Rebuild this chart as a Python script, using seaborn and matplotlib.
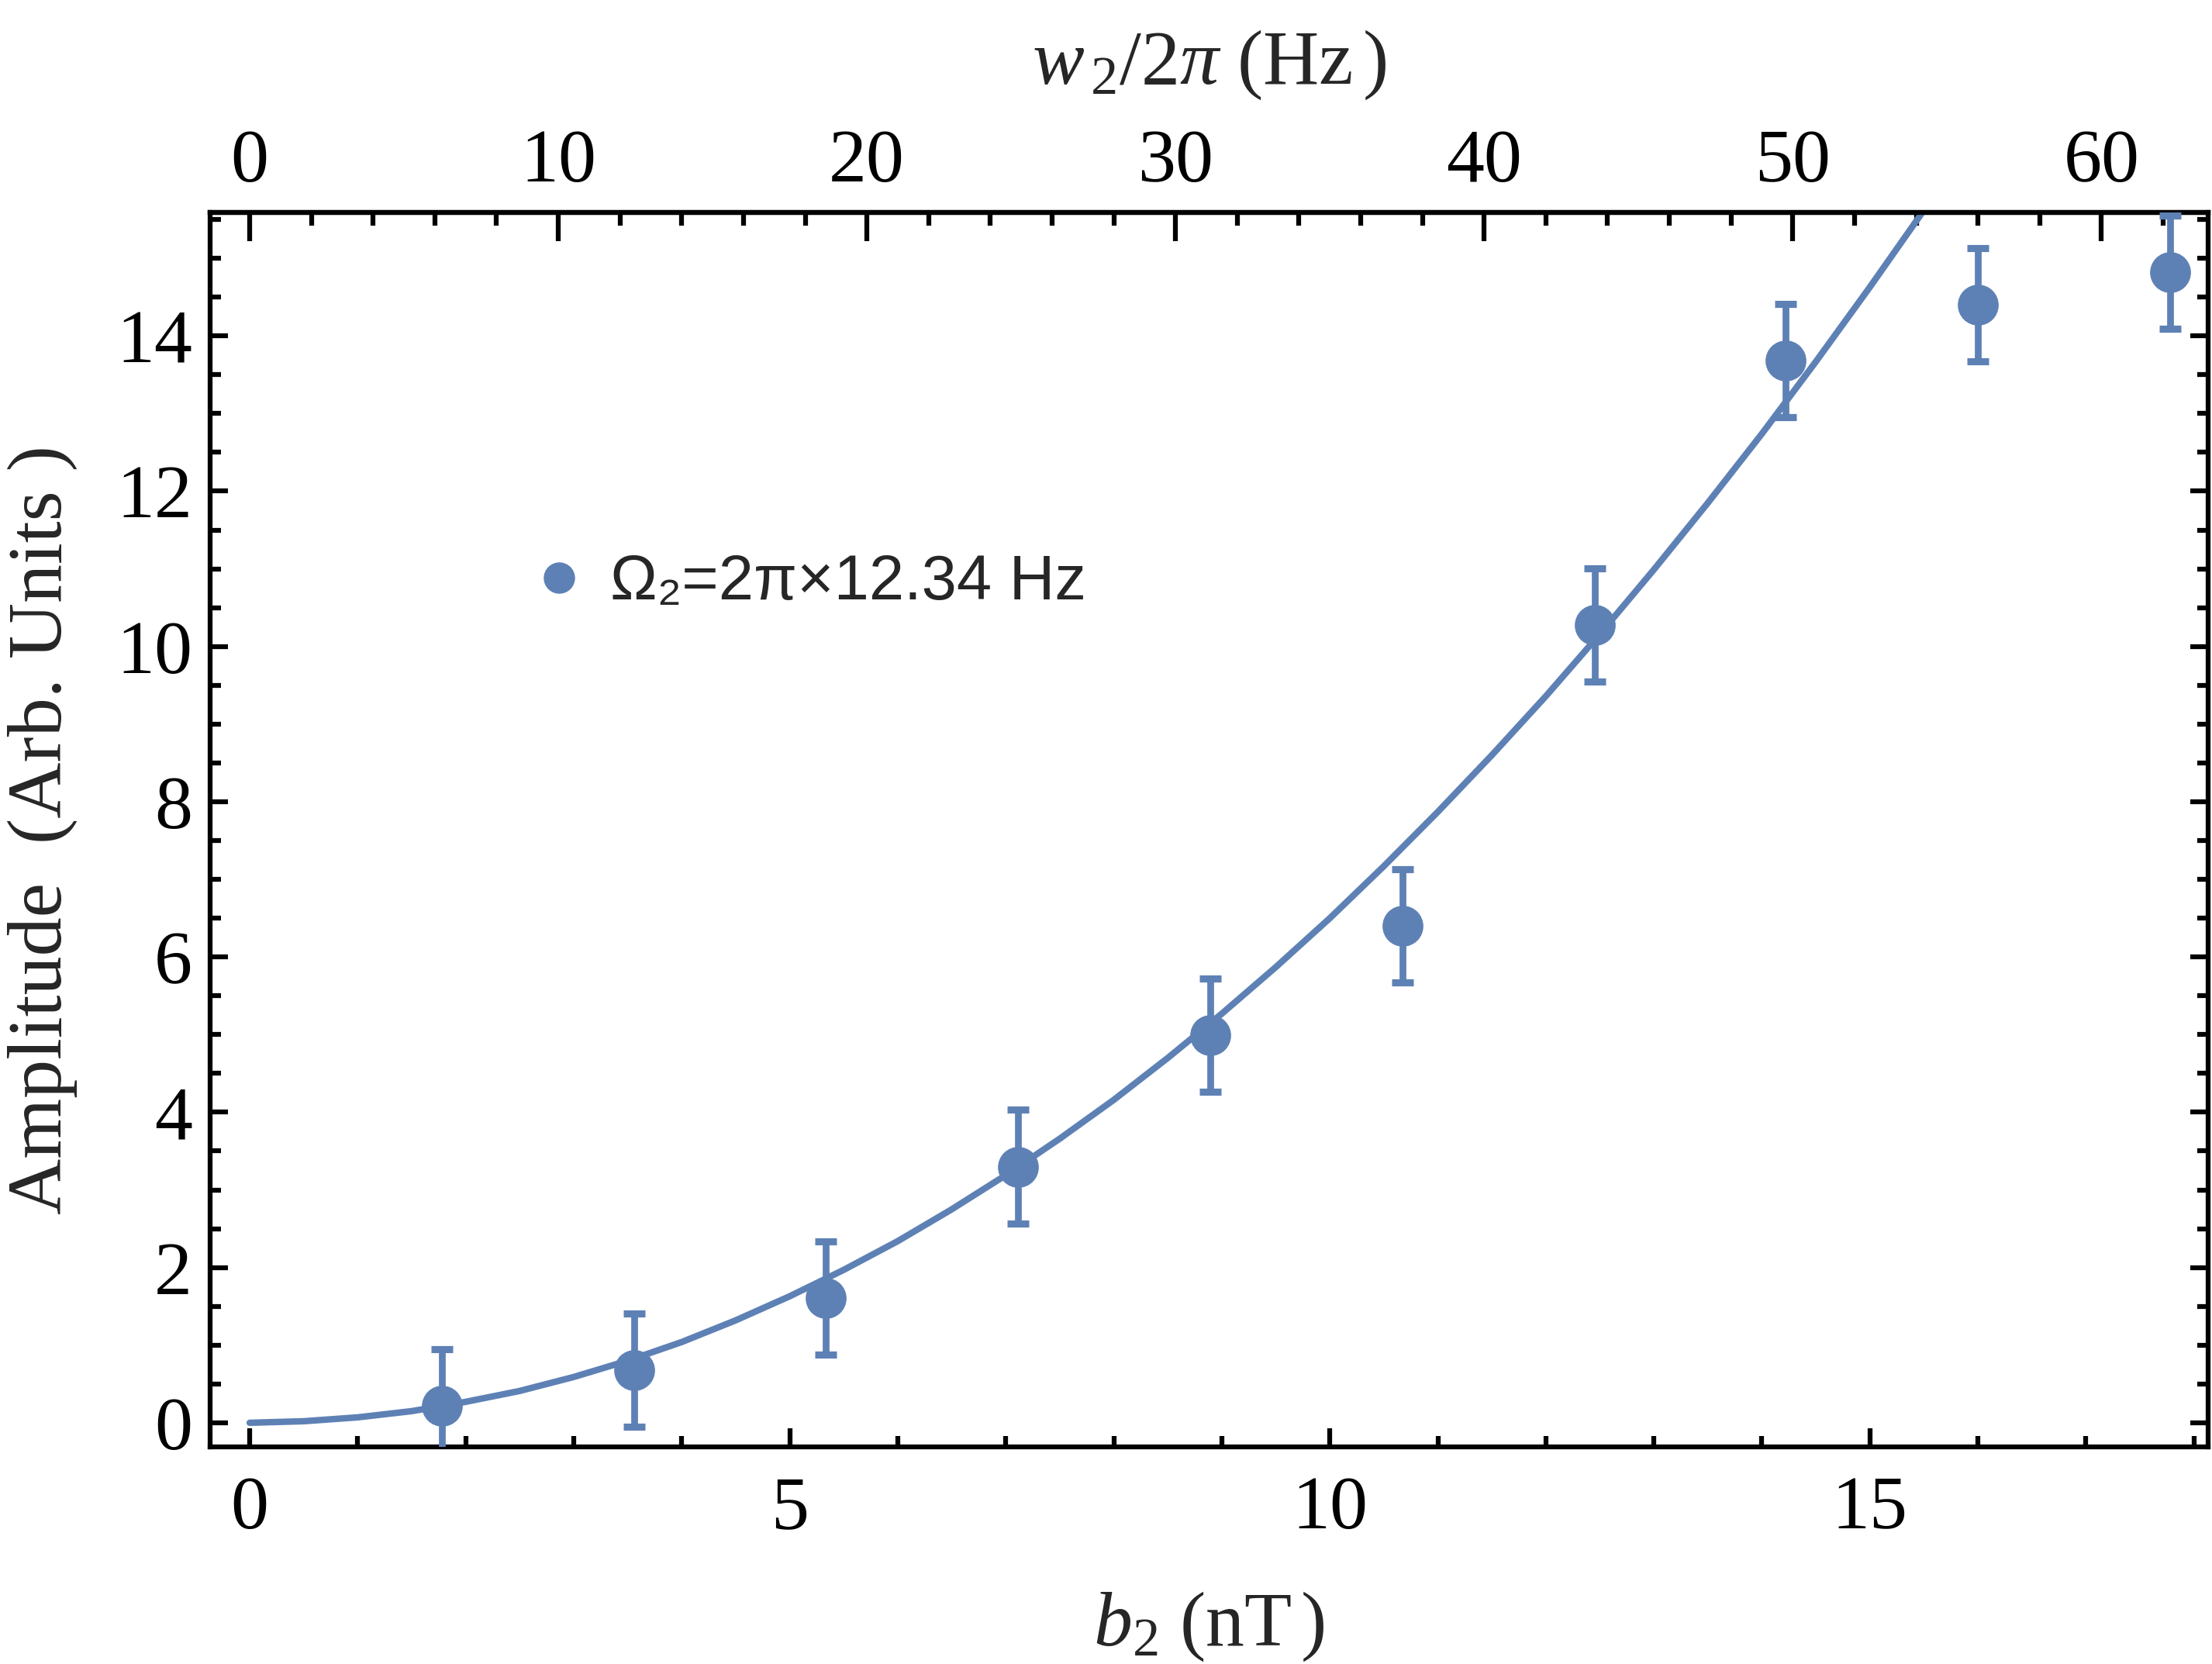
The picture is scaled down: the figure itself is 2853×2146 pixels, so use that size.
### Dependencies ---------------------------------------------------------------
import pandas as pd
import matplotlib.pyplot as plt
from matplotlib.ticker import FixedLocator
from matplotlib.lines import Line2D
import seaborn as sns

### Data -----------------------------------------------------------------------
# measured points
b_field = [1.78, 3.56, 5.33, 7.11, 8.89, 10.67, 12.45, 14.22, 16.0, 17.78]  # nT
amplitude = [0.22, 0.68, 1.61, 3.30, 4.99, 6.40, 10.28, 13.68, 14.40, 14.82]
amp_err = [0.73, 0.73, 0.73, 0.73, 0.73, 0.73, 0.73, 0.73, 0.73, 0.73]

# fitted curve, every 0.5 nT
fit_b = [0.0, 0.5, 1.0, 1.5, 2.0, 2.5, 3.0, 3.5, 4.0, 4.5, 5.0, 5.5, 6.0,
         6.5, 7.0, 7.5, 8.0, 8.5, 9.0, 9.5, 10.0, 10.5, 11.0, 11.5, 12.0,
         12.5, 13.0, 13.5, 14.0, 14.5, 15.0, 15.5, 16.0]
fit_amp = [0.0, 0.02, 0.07, 0.15, 0.27, 0.41, 0.59, 0.80, 1.04, 1.32, 1.63,
           1.97, 2.34, 2.75, 3.19, 3.66, 4.16, 4.70, 5.27, 5.87, 6.50, 7.17,
           7.87, 8.60, 9.36, 10.16, 10.99, 11.85, 12.74, 13.67, 14.63, 15.62,
           16.64]

# top axis conversion b -> w/2pi
hz_per_nt = 3.5

# ticks
x_major = [0, 5, 10, 15]
x_minor = list(range(0, 19))
y_major = [0, 2, 4, 6, 8, 10, 12, 14]
y_minor = [v / 2 for v in range(0, 32)]
top_major = [0, 10, 20, 30, 40, 50, 60]
top_minor = list(range(0, 64, 2))

legend_label = "Ω₂=2π×12.34 Hz"
x_label = r"$b_2\ (\mathrm{nT}\,)$"
top_label = r"$w_{\,2}/2\pi\ (\mathrm{Hz}\,)$"
y_label = "Amplitude  (Arb. Units )"

### Style ----------------------------------------------------------------------
sns.set_theme(style="ticks")
plt.rcParams['font.family'] = ['Liberation Serif', 'DejaVu Serif']
plt.rcParams['mathtext.fontset'] = 'custom'
plt.rcParams['mathtext.rm'] = 'Liberation Serif'
plt.rcParams['mathtext.it'] = 'Liberation Serif:italic'
plt.rcParams['mathtext.bf'] = 'Liberation Serif:bold'
plt.rcParams['axes.linewidth'] = 1.5
plt.rcParams['axes.edgecolor'] = 'black'
plt.rcParams['xtick.color'] = 'black'
plt.rcParams['ytick.color'] = 'black'

blue = '#5E81B5'

pts = pd.DataFrame({'b': b_field, 'amp': amplitude, 'err': amp_err})
fit = pd.DataFrame({'b': fit_b, 'amp': fit_amp})

### Plot -----------------------------------------------------------------------
fig = plt.figure(figsize=(2853 / 300, 2146 / 300), dpi=300)
ax = fig.add_axes([0.0950, 0.1305, 0.9982 - 0.0950, 0.8723 - 0.1305])

sns.lineplot(data=fit, x='b', y='amp', color=blue, lw=2.0, ax=ax, sort=False)
ax.errorbar(pts['b'], pts['amp'], yerr=pts['err'], fmt='none', ecolor=blue,
            elinewidth=2.1, capsize=3.4, capthick=2.2, zorder=3)
sns.scatterplot(data=pts, x='b', y='amp', color=blue, s=160, linewidth=0,
                ax=ax, zorder=4)

ax.set_xlim(-0.366, 18.13)
ax.set_ylim(-0.31, 15.59)

ax.xaxis.set_major_locator(FixedLocator(x_major))
ax.xaxis.set_minor_locator(FixedLocator(x_minor))
ax.yaxis.set_major_locator(FixedLocator(y_major))
ax.yaxis.set_minor_locator(FixedLocator(y_minor))

ax.tick_params(which='both', direction='in', top=False, right=True,
               labelsize=23.5, width=1.5)
ax.tick_params(axis='x', which='major', length=5.8, pad=9)
ax.tick_params(axis='x', which='minor', length=3.4)
ax.tick_params(axis='y', which='major', length=5.5, pad=5.5)
ax.tick_params(axis='y', which='minor', length=3.3)

# top axis in Hz
secax = ax.secondary_xaxis('top', functions=(lambda b: b * hz_per_nt,
                                             lambda w: w / hz_per_nt))
secax.xaxis.set_major_locator(FixedLocator(top_major))
secax.xaxis.set_minor_locator(FixedLocator(top_minor))
secax.tick_params(which='both', direction='in', width=1.5, labelsize=23.5, pad=4.5)
secax.tick_params(which='major', length=8.9)
secax.tick_params(which='minor', length=4.1)
secax.set_xlabel(top_label, fontsize=24, labelpad=14)

ax.set_xlabel(x_label, fontsize=24, labelpad=14)
ax.set_ylabel(y_label, fontsize=24, labelpad=12)

# legend
handle = Line2D([], [], marker='o', ls='none', color=blue, markersize=9.7,
                markeredgewidth=0)
ax.legend(handles=[handle], labels=[legend_label], loc='center left',
          bbox_to_anchor=(0.1587, 0.6997), frameon=False, borderpad=0,
          borderaxespad=0, handlelength=1.0, handletextpad=0.32,
          prop={'family': ['Liberation Sans', 'DejaVu Sans'], 'size': 19.5})

fig.savefig('out.png', dpi=300)
